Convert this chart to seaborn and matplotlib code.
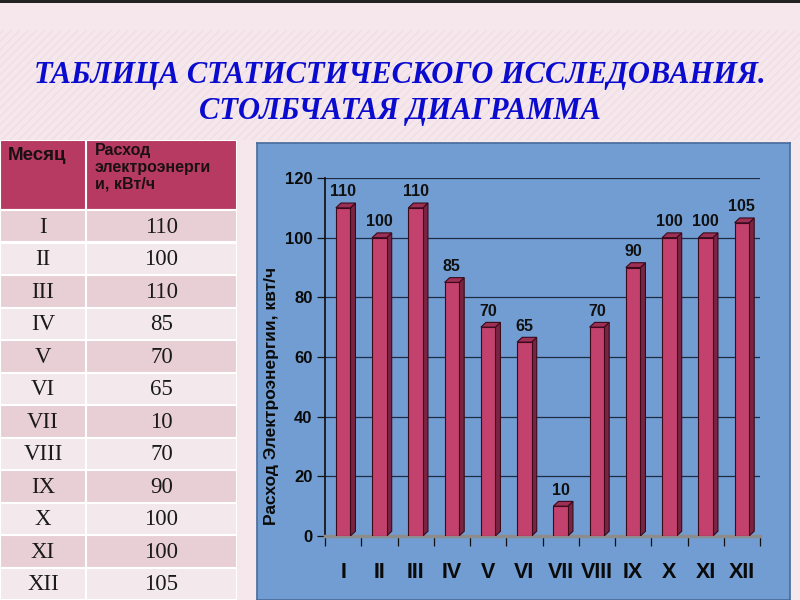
import numpy as np
import pandas as pd
import matplotlib
matplotlib.use('Agg')
import matplotlib.pyplot as plt
import seaborn as sns
from matplotlib.patches import Polygon, Rectangle

# --- данные ---
months = ['I', 'II', 'III', 'IV', 'V', 'VI', 'VII', 'VIII', 'IX', 'X', 'XI', 'XII']
values = [110, 100, 110, 85, 70, 65, 10, 70, 90, 100, 100, 105]
title_lines = ['ТАБЛИЦА СТАТИСТИЧЕСКОГО ИССЛЕДОВАНИЯ.', 'СТОЛБЧАТАЯ ДИАГРАММА']
col_headers = ['Месяц', 'Расход\nэлектроэнерги\nи, кВт/ч']
y_label = 'Расход Электроэнергии, квт/ч'
y_ticks = [0, 20, 40, 60, 80, 100, 120]

df = pd.DataFrame({'month': months, 'value': values})

sns.set_theme(style='white')
plt.rcParams['font.family'] = ['Liberation Sans', 'DejaVu Sans']

fig = plt.figure(figsize=(8, 6), dpi=100, facecolor='#F5E7EC')

# фон слайда: полосатая полоса под заголовком
fig.patches.append(Rectangle((0, 1 - 140 / 600), 1, 110 / 600, transform=fig.transFigure,
                             facecolor='none', edgecolor='#EFDFE5', hatch='////', lw=0, zorder=0))
fig.patches.append(Rectangle((0, 1 - 3 / 600), 1, 3 / 600, transform=fig.transFigure,
                             facecolor='#222222', lw=0, zorder=1))

# --- заголовок ---
for i, line in enumerate(title_lines):
    fig.text(0.5, 1 - (76 + 35 * i) / 600, line, ha='center', va='center',
             color='#0B0BD0', fontsize=22, fontweight='bold', fontstyle='italic',
             family='Liberation Serif')

# --- таблица слева ---
ax_t = fig.add_axes([0, 0, 237 / 800, 460 / 600])
ax_t.set_xlim(0, 237)
ax_t.set_ylim(460, 0)
ax_t.axis('off')
head_h = 70
row_h = (460 - head_h) / len(months)
col_x = 86
ax_t.add_patch(Rectangle((0, 0), 237, head_h, facecolor='#B73A63', edgecolor='white', lw=1.5))
ax_t.plot([col_x, col_x], [0, 460], color='white', lw=1.5, zorder=3)
ax_t.text(8, 7, col_headers[0], ha='left', va='top', fontsize=13.5, fontweight='bold', color='#1A1014')
ax_t.text(95, 3, col_headers[1], ha='left', va='top', fontsize=11.5, fontweight='bold',
          color='#1A1014', linespacing=1.15)
for i, (m, v) in enumerate(zip(months, values)):
    y0 = head_h + i * row_h
    fc = '#E8CFD6' if i % 2 == 0 else '#F3E8EB'
    ax_t.add_patch(Rectangle((0, y0), 237, row_h, facecolor=fc, edgecolor='white', lw=1.5))
    ax_t.text(col_x / 2, y0 + row_h / 2 + 1, m, ha='center', va='center', fontsize=16.5,
              family='Liberation Serif', color='#1A1A1A')
    ax_t.text((col_x + 237) / 2, y0 + row_h / 2 + 1, str(v), ha='center', va='center', fontsize=16.5,
              family='Liberation Serif', color='#1A1A1A')

# --- синяя панель диаграммы ---
ax_bg = fig.add_axes([257 / 800, 0, 533 / 800, 457 / 600])
ax_bg.set_facecolor('#729DD2')
ax_bg.set_xticks([])
ax_bg.set_yticks([])
for s in ax_bg.spines.values():
    s.set_color('#4A6E9E')

# --- столбчатая диаграмма ---
ax = fig.add_axes([325 / 800, 64 / 600, 435 / 800, 358 / 600])
ax.set_facecolor('none')
sns.barplot(data=df, x='month', y='value', color='#C2416D', saturation=1, width=0.4,
            edgecolor='#3A0A1A', linewidth=0.8, ax=ax, zorder=3)

# псевдо-3D: боковые и верхние грани по геометрии столбцов
dx, dy = 0.14, 1.6
for p in ax.patches:
    x, w, h = p.get_x(), p.get_width(), p.get_height()
    side = Polygon([(x + w, 0), (x + w + dx, dy), (x + w + dx, h + dy), (x + w, h)],
                   closed=True, facecolor='#7A2444', edgecolor='#3A0A1A', lw=0.8, zorder=2.9)
    top = Polygon([(x, h), (x + dx, h + dy), (x + w + dx, h + dy), (x + w, h)],
                  closed=True, facecolor='#9E2F55', edgecolor='#3A0A1A', lw=0.8, zorder=3.1)
    ax.add_patch(side)
    ax.add_patch(top)

ax.bar_label(ax.containers[0], padding=6, fontsize=11.5, fontweight='bold', color='#111111')

ax.set_ylim(0, 120)
ax.set_xlim(-0.5, len(months) - 0.5)
ax.set_yticks(y_ticks)
ax.set_xticks(np.arange(-0.5, len(months), 1), minor=True)
ax.yaxis.grid(True, color='#1E2B45', lw=0.9, zorder=0)
ax.xaxis.grid(False)
ax.tick_params(axis='y', left=True, length=6, width=0.9, color='#111111', labelsize=12, pad=3)
ax.tick_params(axis='x', which='major', bottom=False, labelsize=15.5, pad=13)
ax.tick_params(axis='x', which='minor', bottom=True, length=7, width=0.9, color='#111111')
for lbl in ax.get_yticklabels() + ax.get_xticklabels():
    lbl.set_fontweight('bold')
    lbl.set_color('#0A0A0A')
for side_name in ['top', 'right']:
    ax.spines[side_name].set_visible(False)
ax.spines['left'].set_color('#111111')
ax.spines['bottom'].set_color('#8C8C8C')
ax.spines['bottom'].set_linewidth(2.5)
ax.set_xlabel('')
ax.set_ylabel(y_label, fontsize=12.5, fontweight='bold', color='#0A0A0A')
ax.yaxis.set_label_coords(-0.105, 0.39)

fig.savefig('out.png', dpi=100, facecolor=fig.get_facecolor())
